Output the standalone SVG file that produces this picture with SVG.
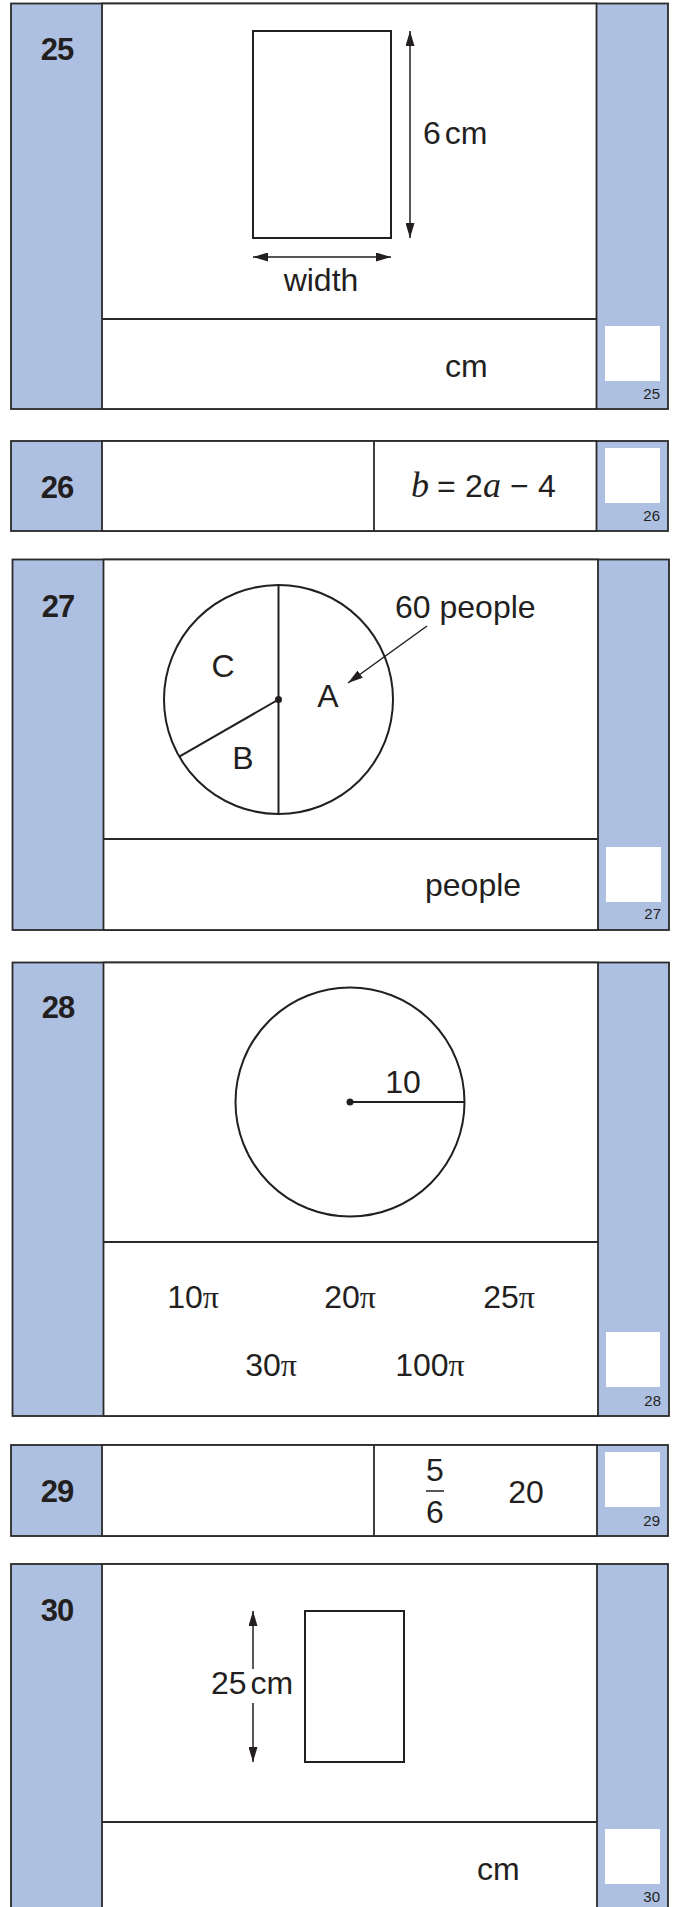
<svg xmlns="http://www.w3.org/2000/svg" width="676" height="1907" viewBox="0 0 676 1907">
<style>
.side{fill:#aec0e1;stroke:#2a2a2a;stroke-width:1.8}
.mid{fill:#fff;stroke:#2a2a2a;stroke-width:1.8}
.div{stroke:#2a2a2a;stroke-width:1.8;fill:none}
.box{fill:#fff}
.num{font-family:"Liberation Sans",Arial,sans-serif;font-weight:bold;font-size:31px;fill:#231f20;text-anchor:middle;letter-spacing:-1px}
.t{font-family:"Liberation Sans",Arial,sans-serif;font-size:32px;fill:#231f20}
.c{text-anchor:middle}
.sm{font-family:"Liberation Sans",Arial,sans-serif;font-size:15px;fill:#231f20;text-anchor:end}
.ln{stroke:#231f20;stroke-width:1.5;fill:none}
.shape{stroke:#231f20;stroke-width:2;fill:none}
.it{font-family:"Liberation Serif","Times New Roman",serif;font-style:italic;font-size:36px}
.pi{font-family:"Liberation Serif","Times New Roman",serif}
</style>
<defs>
<marker id="ah" markerUnits="userSpaceOnUse" markerWidth="15" markerHeight="9" viewBox="0 0 15 9" refX="15" refY="4.5" orient="auto-start-reverse">
<path d="M0,0 L15,4.5 L0,9 z" fill="#231f20"/>
</marker>
</defs>
<rect width="676" height="1907" fill="#fff"/>

<g id="q25">
<rect class="side" x="11" y="3.5" width="657" height="405.5"/>
<rect class="mid" x="102" y="3.5" width="494.5" height="405.5"/>
<line class="div" x1="102" y1="319" x2="596.5" y2="319"/>
<rect class="box" x="605" y="326" width="55" height="55"/>
<text class="num" x="57" y="60">25</text>
<text class="sm" x="660" y="399">25</text>
<rect class="shape" x="253" y="31" width="138" height="207"/>
<text class="t" x="423" y="144">6<tspan dx="4">cm</tspan></text>
<text class="t c" x="321" y="291">width</text>
<text class="t" x="445" y="377">cm</text>
</g>

<g id="q26">
<rect class="side" x="11" y="441" width="657" height="90"/>
<rect class="mid" x="102" y="441" width="494.5" height="90"/>
<line class="div" x1="374" y1="441" x2="374" y2="531"/>
<rect class="box" x="605" y="448" width="55" height="55"/>
<text class="num" x="57" y="498">26</text>
<text class="sm" x="660" y="521">26</text>
<text class="t" y="497"><tspan class="it" x="411">b</tspan><tspan x="437">=</tspan><tspan x="465">2</tspan><tspan class="it" x="483">a</tspan><tspan x="510">−</tspan><tspan x="538">4</tspan></text>
</g>

<g id="q27">
<rect class="side" x="12.5" y="559.5" width="656.5" height="370.5"/>
<rect class="mid" x="103.5" y="559.5" width="494.5" height="370.5"/>
<line class="div" x1="103.5" y1="839" x2="598" y2="839"/>
<rect class="box" x="606" y="847" width="55" height="55"/>
<text class="num" x="58" y="617">27</text>
<text class="sm" x="661" y="919">27</text>
<circle class="shape" cx="278.5" cy="699.5" r="114.5"/>
<line class="shape" x1="278.5" y1="585" x2="278.5" y2="814"/>
<line class="shape" x1="278.5" y1="699.5" x2="179.3" y2="756.7"/>
<circle cx="278.5" cy="699.5" r="3.5" fill="#231f20"/>
<text class="t c" x="223" y="677" font-size="30">C</text>
<text class="t c" x="328" y="707" font-size="30">A</text>
<text class="t c" x="243" y="769" font-size="30">B</text>
<text class="t" x="395" y="618">60 people</text>
<text class="t" x="425" y="896">people</text>
</g>

<g id="q28">
<rect class="side" x="12.5" y="962.5" width="656.5" height="453.5"/>
<rect class="mid" x="103.5" y="962.5" width="494.5" height="453.5"/>
<line class="div" x1="103.5" y1="1242" x2="598" y2="1242"/>
<rect class="box" x="606" y="1332" width="54" height="55"/>
<text class="num" x="58" y="1018">28</text>
<text class="sm" x="661" y="1406">28</text>
<circle class="shape" cx="350" cy="1102" r="114.5"/>
<line class="shape" x1="350" y1="1102" x2="464.5" y2="1102"/>
<circle cx="350" cy="1102" r="3.5" fill="#231f20"/>
<text class="t c" x="403" y="1093">10</text>
<text class="t c" x="193" y="1308">10<tspan class="pi">π</tspan></text>
<text class="t c" x="350" y="1308">20<tspan class="pi">π</tspan></text>
<text class="t c" x="509" y="1308">25<tspan class="pi">π</tspan></text>
<text class="t c" x="271" y="1376">30<tspan class="pi">π</tspan></text>
<text class="t c" x="430" y="1376">100<tspan class="pi">π</tspan></text>
</g>

<g id="q29">
<rect class="side" x="11" y="1445" width="657" height="91"/>
<rect class="mid" x="102" y="1445" width="495" height="91"/>
<line class="div" x1="374" y1="1445" x2="374" y2="1536"/>
<rect class="box" x="605" y="1452" width="55" height="55"/>
<text class="num" x="57" y="1502">29</text>
<text class="sm" x="660" y="1526">29</text>
<text class="t c" x="435" y="1481" font-size="30">5</text>
<line class="ln" x1="426" y1="1491" x2="444" y2="1491"/>
<text class="t c" x="435" y="1523" font-size="30">6</text>
<text class="t c" x="526" y="1503">20</text>
</g>

<g id="q30">
<rect class="side" x="11" y="1564" width="657" height="360"/>
<rect class="mid" x="102" y="1564" width="495" height="360"/>
<line class="div" x1="102" y1="1822" x2="597" y2="1822"/>
<rect class="box" x="605" y="1829" width="55" height="55"/>
<text class="num" x="57" y="1621">30</text>
<text class="sm" x="660" y="1902">30</text>
<rect class="shape" x="305" y="1611" width="99" height="151"/>
<text class="t" x="211" y="1694">25<tspan dx="4">cm</tspan></text>
<text class="t" x="477" y="1880">cm</text>
</g>

<g id="connectors">
<line class="ln" x1="410" y1="31" x2="410" y2="238" marker-start="url(#ah)" marker-end="url(#ah)"/>
<line class="ln" x1="253" y1="257" x2="391" y2="257" marker-start="url(#ah)" marker-end="url(#ah)"/>
<line class="ln" x1="427" y1="626" x2="348" y2="683" marker-end="url(#ah)"/>
<line class="ln" x1="253" y1="1669" x2="253" y2="1611" marker-end="url(#ah)"/>
<line class="ln" x1="253" y1="1703" x2="253" y2="1762" marker-end="url(#ah)"/>
</g>
</svg>
